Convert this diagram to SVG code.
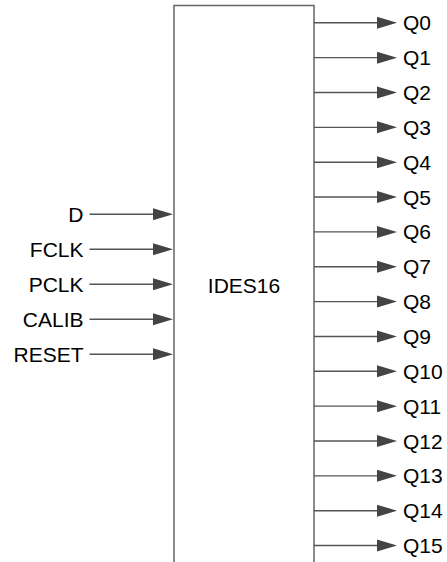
<svg xmlns="http://www.w3.org/2000/svg" width="447" height="562" viewBox="0 0 447 562">
<style>
.box{fill:#fff;stroke:#666;stroke-width:1.5}
.w{stroke:#555;stroke-width:1.4;fill:none}
.ah{fill:#444}
.t{font-family:"Liberation Sans",Arial,sans-serif;font-size:21px;fill:#000}
.r{text-anchor:end}
</style>
<rect width="447" height="562" fill="#fff"/>
<g id="ides16">
<rect class="box" x="174" y="5.5" width="140" height="600"/>
<text class="t" x="244" y="292.5" text-anchor="middle">IDES16</text>
</g>
<g id="inputs">
<g id="in-D"><text class="t r" x="83.5" y="221.5">D</text></g>
<g id="in-FCLK"><text class="t r" x="83.5" y="256.5">FCLK</text></g>
<g id="in-PCLK"><text class="t r" x="83.5" y="291.5">PCLK</text></g>
<g id="in-CALIB"><text class="t r" x="83.5" y="326.5">CALIB</text></g>
<g id="in-RESET"><text class="t r" x="83.5" y="361.5">RESET</text></g>
</g>
<g id="outputs">
<text class="t" x="403" y="30.3">Q0</text>
<text class="t" x="403" y="65.1">Q1</text>
<text class="t" x="403" y="100">Q2</text>
<text class="t" x="403" y="134.8">Q3</text>
<text class="t" x="403" y="169.7">Q4</text>
<text class="t" x="403" y="204.5">Q5</text>
<text class="t" x="403" y="239.4">Q6</text>
<text class="t" x="403" y="274.3">Q7</text>
<text class="t" x="403" y="309.1">Q8</text>
<text class="t" x="403" y="343.9">Q9</text>
<text class="t" x="403" y="378.8">Q10</text>
<text class="t" x="403" y="413.6">Q11</text>
<text class="t" x="403" y="448.5">Q12</text>
<text class="t" x="403" y="483.3">Q13</text>
<text class="t" x="403" y="518.2">Q14</text>
<text class="t" x="403" y="553">Q15</text>
</g>
<g id="connectors">
<path class="w" d="M89.5 214.3H156M89.5 249.3H156M89.5 284.3H156M89.5 319.3H156M89.5 354.3H156"/>
<path class="ah" d="M153 208.3L173 214.3L153 220.3ZM153 243.3L173 249.3L153 255.3ZM153 278.3L173 284.3L153 290.3ZM153 313.3L173 319.3L153 325.3ZM153 348.3L173 354.3L153 360.3Z"/>
<path class="w" d="M314 22.8H380M314 57.65H380M314 92.5H380M314 127.35H380M314 162.2H380M314 197.05H380M314 231.9H380M314 266.75H380M314 301.6H380M314 336.45H380M314 371.3H380M314 406.15H380M314 441H380M314 475.85H380M314 510.7H380M314 545.55H380"/>
<path class="ah" d="M377 16.8L397 22.8L377 28.8ZM377 51.65L397 57.65L377 63.65ZM377 86.5L397 92.5L377 98.5ZM377 121.35L397 127.35L377 133.35ZM377 156.2L397 162.2L377 168.2ZM377 191.05L397 197.05L377 203.05ZM377 225.9L397 231.9L377 237.9ZM377 260.75L397 266.75L377 272.75ZM377 295.6L397 301.6L377 307.6ZM377 330.45L397 336.45L377 342.45ZM377 365.3L397 371.3L377 377.3ZM377 400.15L397 406.15L377 412.15ZM377 435L397 441L377 447ZM377 469.85L397 475.85L377 481.85ZM377 504.7L397 510.7L377 516.7ZM377 539.55L397 545.55L377 551.55Z"/>
</g>
</svg>
